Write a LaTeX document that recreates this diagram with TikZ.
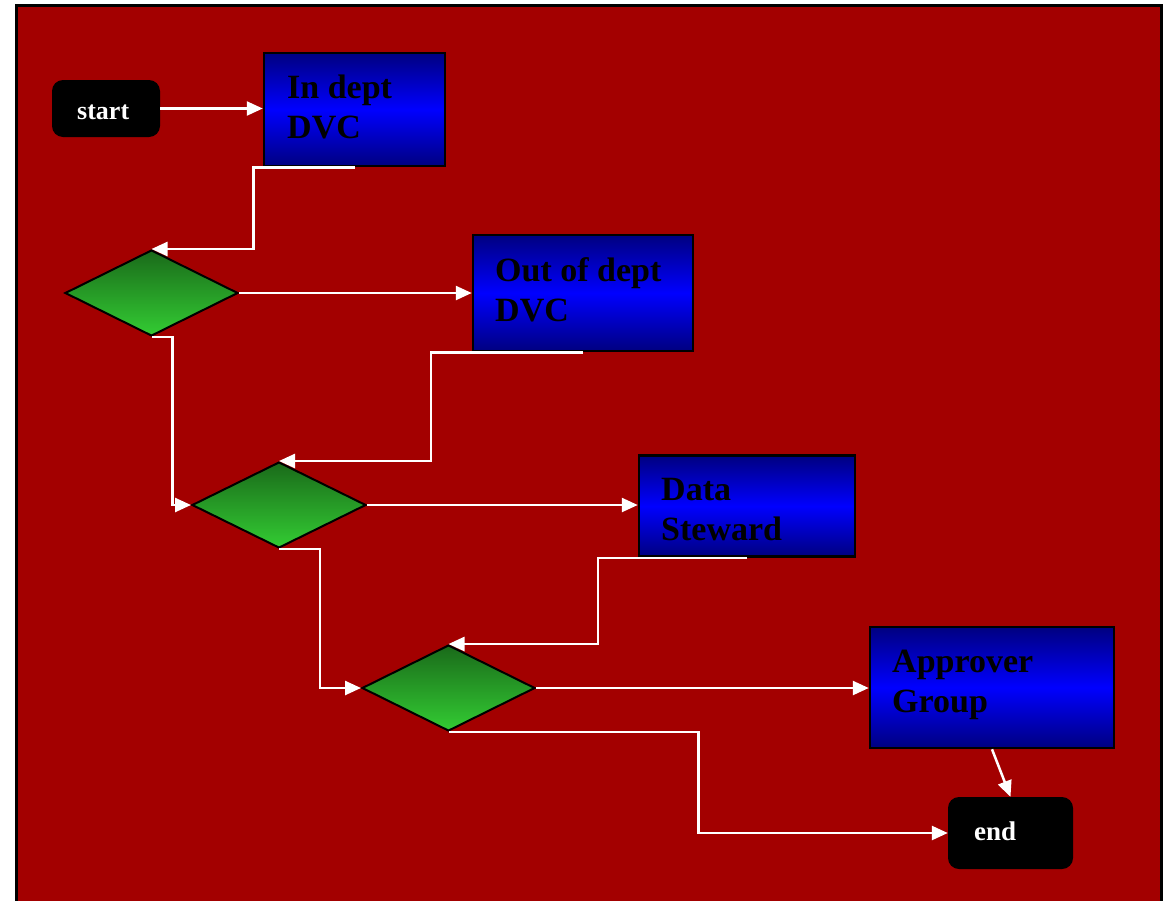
\documentclass[tikz,border=0pt]{standalone}
\usepackage{fontspec}
\setmainfont{Liberation Serif}
\usetikzlibrary{shapes.geometric,arrows.meta}
\definecolor{bgred}{HTML}{A30000}
\definecolor{dkblue}{HTML}{000080}
\definecolor{brblue}{HTML}{0000FF}
\definecolor{dkgreen}{HTML}{1A6A1A}
\definecolor{ltgreen}{HTML}{33CC33}
\begin{document}
\begin{tikzpicture}[x=1pt,y=-1pt,
  procbox/.style={draw=black,line width=2.5pt,rectangle,inner sep=0pt,
    top color=dkblue,bottom color=dkblue,middle color=brblue},
  decbox/.style={draw=black,line width=2pt,diamond,inner sep=0pt,aspect=2,
    top color=dkgreen,bottom color=ltgreen},
  termbox/.style={fill=black,draw=none,rectangle,rounded corners=11pt,inner sep=0pt},
  boxtext/.style={anchor=base west,inner sep=0pt,font=\fontsize{34}{40}\selectfont\bfseries,text=black},
  termtext/.style={anchor=base west,inner sep=0pt,font=\fontsize{26}{30}\selectfont\bfseries,text=white},
  conn/.style={draw=white,line width=2.5pt,-{Triangle[length=16pt,width=14pt]}}
]
\useasboundingbox (0,0) rectangle (1167,900);
\fill[white] (0,0) rectangle (1167,900);
\draw[fill=bgred,line width=3pt] (16,5) rectangle (1161,910);

\node[termbox,minimum width=108pt,minimum height=57pt] (start) at (106,108.5) {};
\node[termtext] (starttxt) at (77,119) {start};

\node[procbox,minimum width=181pt,minimum height=113pt] (ind) at (354.5,109.5) {};
\node[boxtext] (indA) at (287,98) {In dept};
\node[boxtext] (indB) at (287,138) {DVC};

\node[decbox,minimum width=173pt,minimum height=86pt] (d1) at (151.5,293) {};

\node[procbox,minimum width=220pt,minimum height=116pt] (ood) at (583,293) {};
\node[boxtext] (oodA) at (495,281) {Out of dept};
\node[boxtext] (oodB) at (495,321) {DVC};

\node[decbox,minimum width=174pt,minimum height=86pt] (d2) at (279,505) {};

\node[procbox,minimum width=216pt,minimum height=101pt] (ds) at (747,506) {};
\node[boxtext] (dsA) at (661,500) {Data};
\node[boxtext] (dsB) at (661,540) {Steward};

\node[decbox,minimum width=173pt,minimum height=86pt] (d3) at (448.5,688) {};

\node[procbox,minimum width=244pt,minimum height=121pt] (apg) at (992,687.5) {};
\node[boxtext] (apgA) at (892,672) {Approver};
\node[boxtext] (apgB) at (892,712) {Group};

\node[termbox,minimum width=125pt,minimum height=72pt] (endb) at (1010.5,833) {};
\node[termtext,font=\fontsize{27}{30}\selectfont\bfseries] (endtxt) at (974,840) {end};

\draw[conn] (start.east) -- (start.east -| ind.west);
\draw[conn] (ind.south) -- ++(-101,0) |- (d1.north);
\draw[conn] (d1.east) -- (d1.east -| ood.west);
\draw[conn] (d1.south) -- ++(21,0) |- (d2.west);
\draw[conn] (ood.south) -- ++(-152,0) |- (d2.north);
\draw[conn] (d2.east) -- (d2.east -| ds.west);
\draw[conn] (d2.south) -- ++(41,0) |- (d3.west);
\draw[conn] (ds.south) -- ++(-149,0) |- (d3.north);
\draw[conn] (d3.east) -- (d3.east -| apg.west);
\draw[conn] (d3.south) -- ++(250,0) |- (endb.west);
\draw[conn] (apg.south) -- (endb.north);
\end{tikzpicture}
\end{document}
